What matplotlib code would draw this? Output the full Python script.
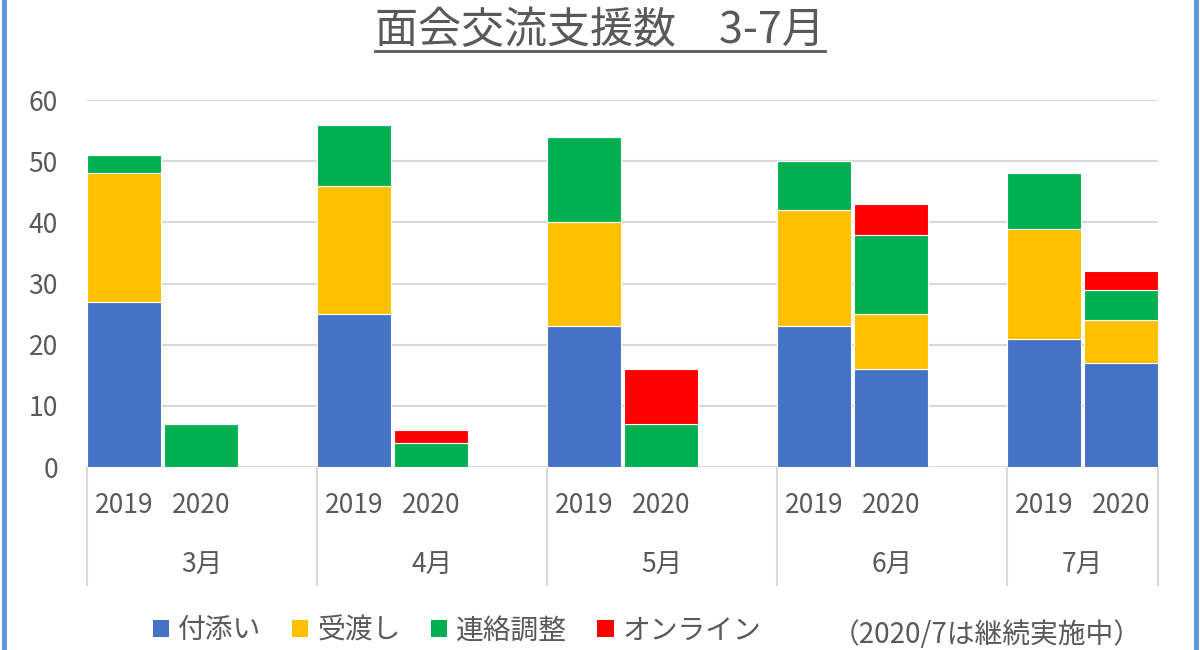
import numpy as np
import matplotlib.pyplot as plt
from matplotlib.patches import Patch
from matplotlib.lines import Line2D

plt.rcParams['font.family'] = ['Noto Sans CJK JP', 'DejaVu Sans']

# data
months = ['3月', '4月', '5月', '6月', '7月']
years = ['2019', '2020']
series = ['付添い', '受渡し', '連絡調整', 'オンライン']
colors = ['#4472C4', '#FFC000', '#00B050', '#FF0000']

# values per month, order: 2019, 2020
tsukisoi = [[27, 0], [25, 0], [23, 0], [23, 16], [21, 17]]
ukewatashi = [[21, 0], [21, 0], [17, 0], [19, 9], [18, 7]]
renraku = [[3, 7], [10, 4], [14, 7], [8, 13], [9, 5]]
online = [[0, 0], [0, 2], [0, 9], [0, 5], [0, 3]]

text_color = '#595959'

fig = plt.figure(figsize=(12, 6.5), dpi=100)
ax = fig.add_axes([0.0725, 0.2815, 0.8925, 0.5645])

bar_w = 74 / 230
offsets = [37 / 230, 114 / 230]

data = [np.array(tsukisoi), np.array(ukewatashi), np.array(renraku), np.array(online)]
idx = np.arange(len(months))
for j in range(len(years)):
    x = idx + offsets[j]
    bottom = np.zeros(len(months))
    for k, vals in enumerate(data):
        v = vals[:, j]
        ax.bar(x, v, bar_w, bottom=bottom, color=colors[k],
               edgecolor='white', linewidth=0.8, zorder=3)
        bottom += v

right = 4 + 151 / 230
ax.set_xlim(0, right)
ax.set_ylim(0, 60)
ax.set_yticks(range(0, 61, 10))
ax.yaxis.grid(True, color='#d9d9d9', linewidth=1.5, zorder=0)
ax.set_axisbelow(True)
for s in ax.spines.values():
    s.set_visible(False)
ax.tick_params(axis='y', length=0, labelsize=19, labelcolor=text_color, pad=21)
ax.set_xticks([])

# category axis: year labels, month labels, dividers
trans = ax.get_xaxis_transform()
for i, m in enumerate(months):
    for j, y in enumerate(years):
        ax.text(i + offsets[j], -0.104, y, transform=trans, ha='center',
                va='center', fontsize=19, color=text_color)
    cx = i + 0.5 if i < len(months) - 1 else (i + right) / 2
    ax.text(cx, -0.267, m, transform=trans, ha='center', va='center',
            fontsize=19, color=text_color)
for xb in list(range(len(months))) + [right]:
    ax.add_line(Line2D([xb, xb], [0, -0.322], transform=trans, color='#d9d9d9',
                       linewidth=1.5, clip_on=False))

# title with underline
title = fig.text(0.5, 0.952, '面会交流支援数　3-7月', ha='center', va='center',
                 fontsize=31, color=text_color)
fig.canvas.draw()
bb = title.get_window_extent().transformed(fig.transFigure.inverted())
fig.add_artist(Line2D([bb.x0, bb.x1], [1 - 51 / 650, 1 - 51 / 650],
                      color=text_color, linewidth=2))

# legend
handles = [Patch(facecolor=c, edgecolor='none') for c in colors]
fig.legend(handles, series, loc='center', bbox_to_anchor=(0.381, 0.03), ncol=4,
           frameon=False, fontsize=20, handlelength=0.58, handleheight=0.58,
           handletextpad=0.32, columnspacing=1.1, labelcolor=text_color,
           borderpad=0)
fig.text(0.8225, 0.023, '（2020/7は継続実施中）', ha='center', va='center',
         fontsize=20, color=text_color)

# side borders
for xb in [4 / 1200, 1196 / 1200]:
    fig.add_artist(Line2D([xb, xb], [0, 1], color='#5B9BD5', linewidth=3.5))

fig.savefig('out.png', dpi=100)
